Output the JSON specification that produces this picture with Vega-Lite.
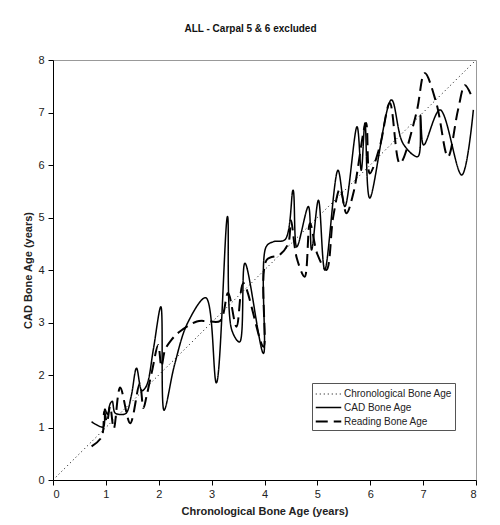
{
  "$schema": "https://vega.github.io/schema/vega-lite/v6.json",
  "autosize": {"type": "none"},
  "padding": {"left": 53, "top": 60, "right": 24, "bottom": 45},
  "width": 423,
  "height": 420,
  "background": "white",
  "title": {
    "text": "ALL - Carpal 5 & 6 excluded",
    "font": "Liberation Sans",
    "fontSize": 10,
    "fontWeight": "bold",
    "color": "#111",
    "anchor": "middle",
    "frame": "group",
    "dx": -14,
    "offset": 20
  },
  "config": {
    "view": {"stroke": "#999", "strokeWidth": 1},
    "axis": {
      "labelFont": "Liberation Sans",
      "labelFontSize": 11,
      "labelColor": "#222",
      "titleFont": "Liberation Sans",
      "titleFontSize": 11,
      "titleFontWeight": "bold",
      "titleColor": "#222",
      "domainColor": "#000",
      "tickColor": "#000",
      "tickSize": 5,
      "grid": false
    }
  },
  "data": {
    "values": [
      {"x": 0, "y": 0, "series": "Chronological Bone Age"},
      {"x": 8, "y": 8, "series": "Chronological Bone Age"},

      {"x": 0.73, "y": 1.11, "series": "CAD Bone Age"},
      {"x": 0.95, "y": 1.01, "series": "CAD Bone Age"},
      {"x": 0.98, "y": 1.35, "series": "CAD Bone Age"},
      {"x": 1.03, "y": 1.25, "series": "CAD Bone Age"},
      {"x": 1.08, "y": 1.45, "series": "CAD Bone Age"},
      {"x": 1.12, "y": 1.5, "series": "CAD Bone Age"},
      {"x": 1.17, "y": 1.28, "series": "CAD Bone Age"},
      {"x": 1.25, "y": 1.25, "series": "CAD Bone Age"},
      {"x": 1.38, "y": 1.27, "series": "CAD Bone Age"},
      {"x": 1.48, "y": 1.6, "series": "CAD Bone Age"},
      {"x": 1.58, "y": 2.13, "series": "CAD Bone Age"},
      {"x": 1.68, "y": 1.7, "series": "CAD Bone Age"},
      {"x": 1.77, "y": 1.8, "series": "CAD Bone Age"},
      {"x": 1.9, "y": 2.5, "series": "CAD Bone Age"},
      {"x": 2.04, "y": 3.3, "series": "CAD Bone Age"},
      {"x": 2.1, "y": 1.33, "series": "CAD Bone Age"},
      {"x": 2.3, "y": 2.2, "series": "CAD Bone Age"},
      {"x": 2.55, "y": 3.0, "series": "CAD Bone Age"},
      {"x": 2.89, "y": 3.47, "series": "CAD Bone Age"},
      {"x": 3.09, "y": 1.85, "series": "CAD Bone Age"},
      {"x": 3.3, "y": 5.02, "series": "CAD Bone Age"},
      {"x": 3.38, "y": 2.86, "series": "CAD Bone Age"},
      {"x": 3.53, "y": 2.63, "series": "CAD Bone Age"},
      {"x": 3.63, "y": 4.13, "series": "CAD Bone Age"},
      {"x": 3.98, "y": 2.41, "series": "CAD Bone Age"},
      {"x": 4.03, "y": 4.44, "series": "CAD Bone Age"},
      {"x": 4.17, "y": 4.54, "series": "CAD Bone Age"},
      {"x": 4.39, "y": 4.58, "series": "CAD Bone Age"},
      {"x": 4.54, "y": 5.52, "series": "CAD Bone Age"},
      {"x": 4.61, "y": 4.44, "series": "CAD Bone Age"},
      {"x": 4.83, "y": 5.21, "series": "CAD Bone Age"},
      {"x": 4.89, "y": 4.38, "series": "CAD Bone Age"},
      {"x": 5.02, "y": 5.33, "series": "CAD Bone Age"},
      {"x": 5.14, "y": 4.0, "series": "CAD Bone Age"},
      {"x": 5.39, "y": 5.9, "series": "CAD Bone Age"},
      {"x": 5.52, "y": 5.21, "series": "CAD Bone Age"},
      {"x": 5.75, "y": 6.73, "series": "CAD Bone Age"},
      {"x": 5.83, "y": 5.9, "series": "CAD Bone Age"},
      {"x": 5.9, "y": 6.8, "series": "CAD Bone Age"},
      {"x": 5.99, "y": 5.37, "series": "CAD Bone Age"},
      {"x": 6.4, "y": 7.24, "series": "CAD Bone Age"},
      {"x": 6.62, "y": 6.41, "series": "CAD Bone Age"},
      {"x": 6.9, "y": 6.16, "series": "CAD Bone Age"},
      {"x": 6.95, "y": 6.95, "series": "CAD Bone Age"},
      {"x": 7.01, "y": 6.38, "series": "CAD Bone Age"},
      {"x": 7.32, "y": 7.05, "series": "CAD Bone Age"},
      {"x": 7.73, "y": 5.81, "series": "CAD Bone Age"},
      {"x": 7.95, "y": 7.05, "series": "CAD Bone Age"},

      {"x": 0.73, "y": 0.64, "series": "Reading Bone Age"},
      {"x": 0.92, "y": 0.82, "series": "Reading Bone Age"},
      {"x": 0.97, "y": 1.3, "series": "Reading Bone Age"},
      {"x": 1.02, "y": 1.1, "series": "Reading Bone Age"},
      {"x": 1.08, "y": 1.4, "series": "Reading Bone Age"},
      {"x": 1.15, "y": 0.98, "series": "Reading Bone Age"},
      {"x": 1.27, "y": 1.76, "series": "Reading Bone Age"},
      {"x": 1.46, "y": 1.08, "series": "Reading Bone Age"},
      {"x": 1.64, "y": 1.84, "series": "Reading Bone Age"},
      {"x": 1.71, "y": 1.37, "series": "Reading Bone Age"},
      {"x": 1.77, "y": 1.6, "series": "Reading Bone Age"},
      {"x": 1.87, "y": 2.06, "series": "Reading Bone Age"},
      {"x": 1.99, "y": 2.57, "series": "Reading Bone Age"},
      {"x": 2.05, "y": 2.16, "series": "Reading Bone Age"},
      {"x": 2.12, "y": 2.48, "series": "Reading Bone Age"},
      {"x": 2.24, "y": 2.67, "series": "Reading Bone Age"},
      {"x": 2.4, "y": 2.83, "series": "Reading Bone Age"},
      {"x": 2.72, "y": 3.02, "series": "Reading Bone Age"},
      {"x": 2.9, "y": 3.03, "series": "Reading Bone Age"},
      {"x": 3.16, "y": 3.03, "series": "Reading Bone Age"},
      {"x": 3.31, "y": 3.56, "series": "Reading Bone Age"},
      {"x": 3.47, "y": 2.92, "series": "Reading Bone Age"},
      {"x": 3.6, "y": 3.75, "series": "Reading Bone Age"},
      {"x": 3.98, "y": 2.54, "series": "Reading Bone Age"},
      {"x": 4.04, "y": 4.19, "series": "Reading Bone Age"},
      {"x": 4.29, "y": 4.29, "series": "Reading Bone Age"},
      {"x": 4.45, "y": 4.51, "series": "Reading Bone Age"},
      {"x": 4.5, "y": 4.95, "series": "Reading Bone Age"},
      {"x": 4.61, "y": 4.23, "series": "Reading Bone Age"},
      {"x": 4.76, "y": 3.87, "series": "Reading Bone Age"},
      {"x": 4.86, "y": 4.89, "series": "Reading Bone Age"},
      {"x": 5.0, "y": 4.3, "series": "Reading Bone Age"},
      {"x": 5.17, "y": 4.0, "series": "Reading Bone Age"},
      {"x": 5.3, "y": 5.02, "series": "Reading Bone Age"},
      {"x": 5.43, "y": 5.55, "series": "Reading Bone Age"},
      {"x": 5.55, "y": 5.08, "series": "Reading Bone Age"},
      {"x": 5.68, "y": 5.46, "series": "Reading Bone Age"},
      {"x": 5.92, "y": 6.8, "series": "Reading Bone Age"},
      {"x": 5.99, "y": 5.84, "series": "Reading Bone Age"},
      {"x": 6.18, "y": 6.35, "series": "Reading Bone Age"},
      {"x": 6.37, "y": 7.18, "series": "Reading Bone Age"},
      {"x": 6.56, "y": 6.03, "series": "Reading Bone Age"},
      {"x": 6.87, "y": 6.98, "series": "Reading Bone Age"},
      {"x": 7.03, "y": 7.75, "series": "Reading Bone Age"},
      {"x": 7.25, "y": 7.18, "series": "Reading Bone Age"},
      {"x": 7.47, "y": 6.16, "series": "Reading Bone Age"},
      {"x": 7.66, "y": 7.05, "series": "Reading Bone Age"},
      {"x": 7.79, "y": 7.52, "series": "Reading Bone Age"},
      {"x": 7.9, "y": 7.35, "series": "Reading Bone Age"}
    ]
  },
  "mark": {"type": "line", "interpolate": "catmull-rom", "color": "black", "clip": true},
  "encoding": {
    "x": {
      "field": "x", "type": "quantitative",
      "scale": {"domain": [0, 8], "nice": false, "zero": false},
      "axis": {"title": "Chronological Bone Age (years)", "values": [0,1,2,3,4,5,6,7,8], "labelPadding": 3, "titlePadding": 6}
    },
    "y": {
      "field": "y", "type": "quantitative",
      "scale": {"domain": [0, 8], "nice": false, "zero": false},
      "axis": {"title": "CAD Bone Age (years)", "values": [0,1,2,3,4,5,6,7,8], "labelPadding": 4, "titlePadding": 4}
    },
    "strokeDash": {
      "field": "series", "type": "nominal",
      "scale": {
        "domain": ["Chronological Bone Age", "CAD Bone Age", "Reading Bone Age"],
        "range": [[1, 3], [1, 0], [12, 6]]
      },
      "legend": {
        "title": null,
        "orient": "none",
        "legendX": 259,
        "legendY": 323,
        "symbolType": "M-1.7,0H1.7",
        "symbolSize": 225,
        "symbolStrokeColor": "black",
        "symbolFillColor": "transparent",
        "symbolOffset": 5,
        "labelFont": "Liberation Sans",
        "labelFontSize": 10,
        "labelColor": "#222",
        "labelOffset": 7,
        "rowPadding": 0,
        "strokeColor": "#555",
        "fillColor": "white",
        "padding": 3
      }
    },
    "strokeWidth": {
      "field": "series", "type": "nominal",
      "scale": {
        "domain": ["Chronological Bone Age", "CAD Bone Age", "Reading Bone Age"],
        "range": [1, 2, 2]
      },
      "legend": null
    }
  }
}
